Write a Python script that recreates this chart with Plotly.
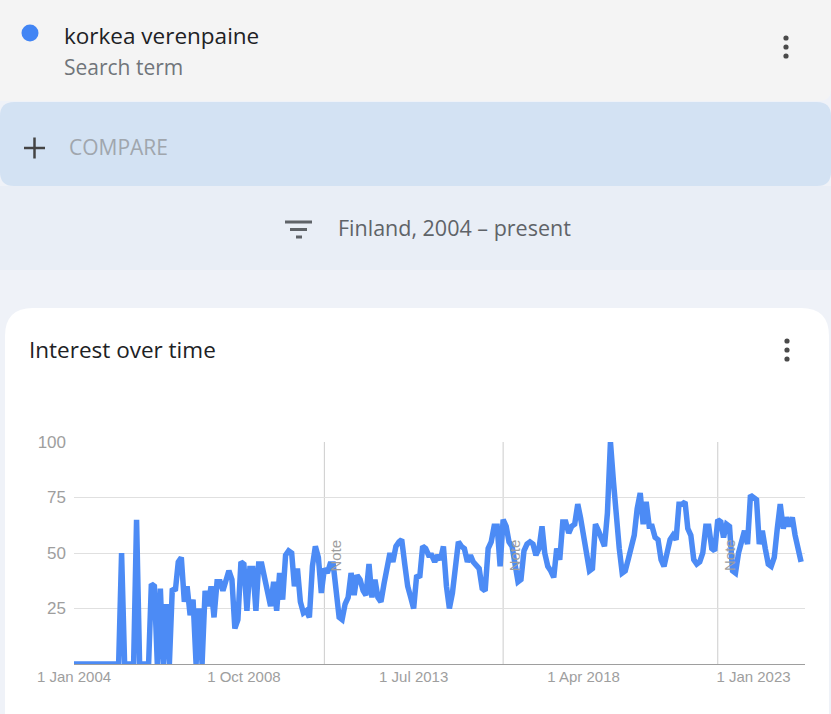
import pandas as pd
import plotly.graph_objects as go

W, H = 831, 714

# Monthly interest, Google Trends "korkea verenpaine", Finland
y2004 = [0, 0, 0, 0, 0, 0, 0, 0, 0, 0, 0, 0]
y2005 = [0, 0, 0, 0, 50, 0, 0, 0, 0, 65, 0, 0]
y2006 = [0, 0, 36, 35, 0, 34, 0, 27, 0, 34, 33, 46]
y2007 = [48, 28, 35, 22, 29, 0, 25, 0, 33, 26, 35, 21]
y2008 = [37, 37, 33, 37, 42, 38, 16, 20, 46, 45, 24, 43]
y2009 = [43, 24, 45, 45, 38, 34, 26, 37, 24, 41, 29, 49]
y2010 = [51, 50, 35, 43, 28, 23, 24, 21, 44, 53, 48, 32]
y2011 = [43, 41, 45, 45, 32, 21, 20, 27, 30, 41, 31, 40]
y2012 = [38, 33, 31, 45, 30, 38, 30, 28, 36, 42, 50, 46]
y2013 = [53, 55, 56, 45, 35, 30, 25, 40, 39, 53, 52, 49]
y2014 = [49, 46, 49, 47, 53, 35, 25, 32, 47, 55, 53, 52]
y2015 = [46, 49, 46, 44, 43, 34, 33, 52, 55, 62, 62, 44]
y2016 = [65, 62, 55, 53, 45, 37, 38, 51, 54, 55, 54, 49]
y2017 = [52, 62, 50, 44, 42, 39, 52, 47, 64, 64, 59, 62]
y2018 = [63, 72, 66, 58, 51, 42, 43, 63, 60, 57, 53, 68]
y2019 = [100, 82, 65, 52, 41, 42, 47, 53, 58, 70, 77, 63]
y2020 = [73, 62, 62, 57, 56, 47, 44, 50, 56, 58, 56, 72]
y2021 = [72, 73, 61, 58, 47, 45, 46, 50, 62, 62, 52, 51]
y2022 = [65, 64, 57, 63, 62, 42, 41, 50, 56, 60, 54, 76]
y2023 = [75, 74, 54, 60, 52, 45, 44, 48, 61, 72, 61, 66]
y2024 = [62, 66, 58, 52, 46]

values = (y2004 + y2005 + y2006 + y2007 + y2008 + y2009 + y2010 + y2011 + y2012
          + y2013 + y2014 + y2015 + y2016 + y2017 + y2018 + y2019 + y2020
          + y2021 + y2022 + y2023 + y2024)
months = pd.date_range(start="2004-01-01", periods=len(values), freq="MS")

tick_dates = ["2004-01-01", "2008-10-01", "2013-07-01", "2018-04-01", "2023-01-01"]
tick_text = ["1 Jan 2004", "1 Oct 2008", "1 Jul 2013", "1 Apr 2018", "1 Jan 2023"]
y_ticks = [25, 50, 75, 100]
note_dates = ["2011-01-01", "2016-01-01", "2022-01-01"]

UI_FONT = "Open Sans"


def px(x):
    return x / W


def py(y):
    return 1 - y / H


def rounded(x0, y0, x1, y1, r, top=True, bottom=True):
    # chemin svg en coordonnees papier, coins arrondis
    rt = r if top else 0
    rb = r if bottom else 0
    p = "M {} {} ".format(px(x0 + rt), py(y0))
    p += "L {} {} ".format(px(x1 - rt), py(y0))
    p += "Q {} {} {} {} ".format(px(x1), py(y0), px(x1), py(y0 + rt))
    p += "L {} {} ".format(px(x1), py(y1 - rb))
    p += "Q {} {} {} {} ".format(px(x1), py(y1), px(x1 - rb), py(y1))
    p += "L {} {} ".format(px(x0 + rb), py(y1))
    p += "Q {} {} {} {} ".format(px(x0), py(y1), px(x0), py(y1 - rb))
    p += "L {} {} ".format(px(x0), py(y0 + rt))
    p += "Q {} {} {} {} Z".format(px(x0), py(y0), px(x0 + rt), py(y0))
    return p


shapes = []


def bg(path, color):
    shapes.append(dict(type="path", path=path, xref="paper", yref="paper",
                       fillcolor=color, line=dict(width=0), layer="below"))


def circle(cx, cy, r, color):
    shapes.append(dict(type="circle", xref="paper", yref="paper",
                       x0=px(cx - r), x1=px(cx + r), y0=py(cy + r), y1=py(cy - r),
                       fillcolor=color, line=dict(width=0)))


def seg(x0, y0, x1, y1, color, w):
    shapes.append(dict(type="line", xref="paper", yref="paper",
                       x0=px(x0), x1=px(x1), y0=py(y0), y1=py(y1),
                       line=dict(color=color, width=w)))


# fonds
bg(rounded(-20, -20, W, 101, 12, top=False), "#f4f4f4")
bg(rounded(0, 102, W, 186, 14), "#d3e2f3")
shapes.append(dict(type="rect", xref="paper", yref="paper", x0=0, x1=1,
                   y0=py(270), y1=py(186), fillcolor="#e9eef6",
                   line=dict(width=0), layer="below"))
bg(rounded(5, 308, 829, 760, 28, bottom=False), "#ffffff")

# icones
circle(30, 33, 8.5, "#4285f4")
for yy in [38, 47, 56]:
    circle(786, yy, 2.6, "#4a4a4a")
for yy in [341, 350, 359]:
    circle(787, yy, 2.6, "#4a4a4a")
seg(24, 148, 45, 148, "#444444", 2.5)
seg(34.5, 137.5, 34.5, 158.5, "#444444", 2.5)
seg(285, 222, 312, 222, "#5f6368", 3)
seg(290, 229.5, 307, 229.5, "#5f6368", 3)
seg(296, 237, 302, 237, "#5f6368", 3)

# lignes "Note"
for d in note_dates:
    shapes.append(dict(type="line", xref="x", yref="y", x0=d, x1=d, y0=0, y1=100,
                       line=dict(color="#cccccc", width=1), layer="below"))

annotations = []


def label(x, y, text, size, color):
    annotations.append(dict(x=px(x), y=py(y), xref="paper", yref="paper",
                            text=text, showarrow=False, xanchor="left",
                            yanchor="middle",
                            font=dict(family=UI_FONT, size=size, color=color)))


label(62, 35, "korkea verenpaine", 22.5, "#202124")
label(62, 67, "Search term", 21, "#70757a")
label(67, 147, "COMPARE", 21, "#a0a6ad")
label(336, 228, "Finland, 2004 – present", 21.5, "#5f6368")
label(27, 349, "Interest over time", 22.5, "#202124")

for d in note_dates:
    annotations.append(dict(x=d, y=49, xref="x", yref="y", text="Note",
                            showarrow=False, textangle=-90, xshift=11,
                            font=dict(family="Arial", size=15, color="#9e9e9e")))

fig = go.Figure()
fig.add_trace(go.Scatter(x=months, y=values, mode="lines",
                         line=dict(color="#4c8bf5", width=5.5),
                         hoverinfo="skip", showlegend=False))

fig.update_layout(
    width=W, height=H,
    margin=dict(l=0, r=0, t=0, b=0, pad=0, autoexpand=False),
    paper_bgcolor="#eff2f8",
    plot_bgcolor="rgba(0,0,0,0)",
    shapes=shapes,
    annotations=annotations,
    hovermode=False,
    xaxis=dict(
        type="date",
        automargin=False,
        domain=[px(74), px(805)],
        range=["2004-01-01", "2024-06-10"],
        tickvals=tick_dates, ticktext=tick_text,
        showgrid=False, zeroline=False,
        showline=True, linecolor="#9e9e9e", linewidth=1,
        ticks="", ticklabelstandoff=-1,
        tickfont=dict(family="Arial", size=15, color="#9e9e9e"),
    ),
    yaxis=dict(
        automargin=False,
        domain=[py(664), py(442)],
        range=[0, 100],
        tickvals=y_ticks,
        showgrid=True, gridcolor="#e0e0e0", gridwidth=1,
        zeroline=False, showline=False,
        ticks="", ticklabelstandoff=7,
        tickfont=dict(family="Arial", size=17, color="#9e9e9e"),
    ),
)

# pas de marge autour de la page, pas de barre d'outils
fig.write_html("out.html",
               config={"displayModeBar": False},
               post_script="document.body.style.margin='0';"
                           "document.body.style.overflow='hidden';")
